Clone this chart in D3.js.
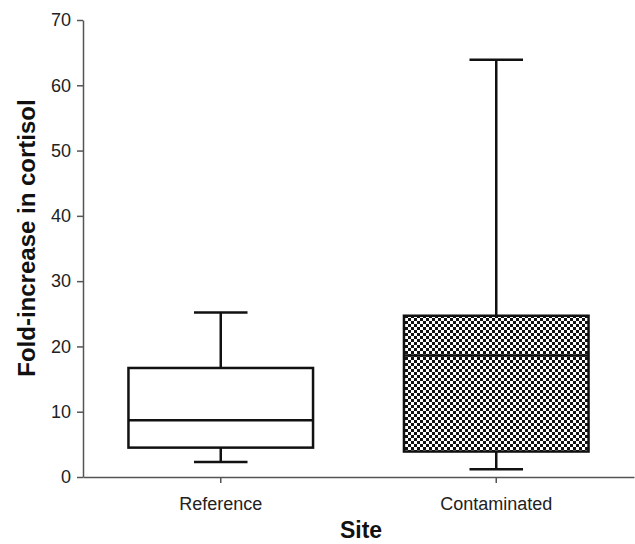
<!DOCTYPE html>
<html>
<head>
<meta charset="utf-8">
<title>Fold-increase in cortisol by site</title>
<script src="https://cdnjs.cloudflare.com/ajax/libs/d3/7.8.5/d3.min.js"></script>
<style>
  body { margin: 0; background: #fff; }
  svg { display: block; font-family: "Liberation Sans", Arial, sans-serif; }
  .axis text { font-size: 18px; fill: #222; }
  .axis path, .axis line { stroke: #555; stroke-width: 1.5px; }
</style>
</head>
<body>
<div id="chart"></div>
<script>
// box plot data
var sites = ["Reference", "Contaminated"];
var minVals = [2.3, 1.2];
var q1Vals = [4.5, 3.9];
var medianVals = [8.7, 18.6];
var q3Vals = [16.7, 24.7];
var maxVals = [25.2, 63.9];
var yTicks = [0, 10, 20, 30, 40, 50, 60, 70];

var W = 635, H = 544;
var margin = {top: 20, right: 1, bottom: 67, left: 83};

var svg = d3.select("#chart").append("svg")
  .attr("width", W)
  .attr("height", H);

// checkerboard fill for the contaminated box
var defs = svg.append("defs");
var pat = defs.append("pattern")
  .attr("id", "checker")
  .attr("patternUnits", "userSpaceOnUse")
  .attr("width", 6)
  .attr("height", 6);
pat.append("rect").attr("width", 6).attr("height", 6).attr("fill", "#fff");
pat.append("rect").attr("width", 3).attr("height", 3).attr("fill", "#111");
pat.append("rect").attr("x", 3).attr("y", 3).attr("width", 3).attr("height", 3).attr("fill", "#111");

var x = d3.scaleBand()
  .domain(sites)
  .range([margin.left, W - margin.right])
  .paddingInner(0.33)
  .paddingOuter(0.165);

var y = d3.scaleLinear()
  .domain([0, 70])
  .range([H - margin.bottom, margin.top]);

// axes
svg.append("g")
  .attr("class", "axis")
  .attr("transform", "translate(" + margin.left + ",0)")
  .call(d3.axisLeft(y).tickValues(yTicks).tickSize(6).tickPadding(6).tickSizeOuter(0));

svg.append("g")
  .attr("class", "axis")
  .attr("transform", "translate(0," + (H - margin.bottom) + ")")
  .call(d3.axisBottom(x).tickSize(6).tickPadding(14).tickSizeOuter(0));

// boxes
var data = sites.map(function(s, i) {
  return {site: s, min: minVals[i], q1: q1Vals[i], med: medianVals[i], q3: q3Vals[i], max: maxVals[i]};
});

var bw = x.bandwidth();
var capW = bw * 0.29;

var g = svg.append("g").selectAll("g")
  .data(data)
  .enter().append("g");

// whiskers
g.append("line")
  .attr("x1", function(d) { return x(d.site) + bw / 2; })
  .attr("x2", function(d) { return x(d.site) + bw / 2; })
  .attr("y1", function(d) { return y(d.max); })
  .attr("y2", function(d) { return y(d.q3); })
  .attr("stroke", "#111").attr("stroke-width", 2.5);
g.append("line")
  .attr("x1", function(d) { return x(d.site) + bw / 2; })
  .attr("x2", function(d) { return x(d.site) + bw / 2; })
  .attr("y1", function(d) { return y(d.q1); })
  .attr("y2", function(d) { return y(d.min); })
  .attr("stroke", "#111").attr("stroke-width", 2.5);

// caps
g.selectAll(".cap")
  .data(function(d) { return [{site: d.site, v: d.max}, {site: d.site, v: d.min}]; })
  .enter().append("line")
  .attr("x1", function(d) { return x(d.site) + bw / 2 - capW / 2; })
  .attr("x2", function(d) { return x(d.site) + bw / 2 + capW / 2; })
  .attr("y1", function(d) { return y(d.v); })
  .attr("y2", function(d) { return y(d.v); })
  .attr("stroke", "#111").attr("stroke-width", 2.5);

g.append("rect")
  .attr("x", function(d) { return x(d.site); })
  .attr("y", function(d) { return y(d.q3); })
  .attr("width", bw)
  .attr("height", function(d) { return y(d.q1) - y(d.q3); })
  .attr("fill", function(d, i) { return i == 1 ? "url(#checker)" : "#fff"; })
  .attr("stroke", "#111").attr("stroke-width", 2.5);

// median
g.append("line")
  .attr("x1", function(d) { return x(d.site); })
  .attr("x2", function(d) { return x(d.site) + bw; })
  .attr("y1", function(d) { return y(d.med); })
  .attr("y2", function(d) { return y(d.med); })
  .attr("stroke", "#111").attr("stroke-width", 2.5);

// axis titles
svg.append("text")
  .attr("text-anchor", "middle")
  .attr("x", 361)
  .attr("y", 538)
  .attr("font-size", "23px")
  .attr("font-weight", "bold")
  .attr("fill", "#111")
  .text("Site");

svg.append("text")
  .attr("text-anchor", "middle")
  .attr("transform", "translate(35,238) rotate(-90)")
  .attr("font-size", "24px")
  .attr("font-weight", "bold")
  .attr("fill", "#111")
  .text("Fold-increase in cortisol");
</script>
</body>
</html>
